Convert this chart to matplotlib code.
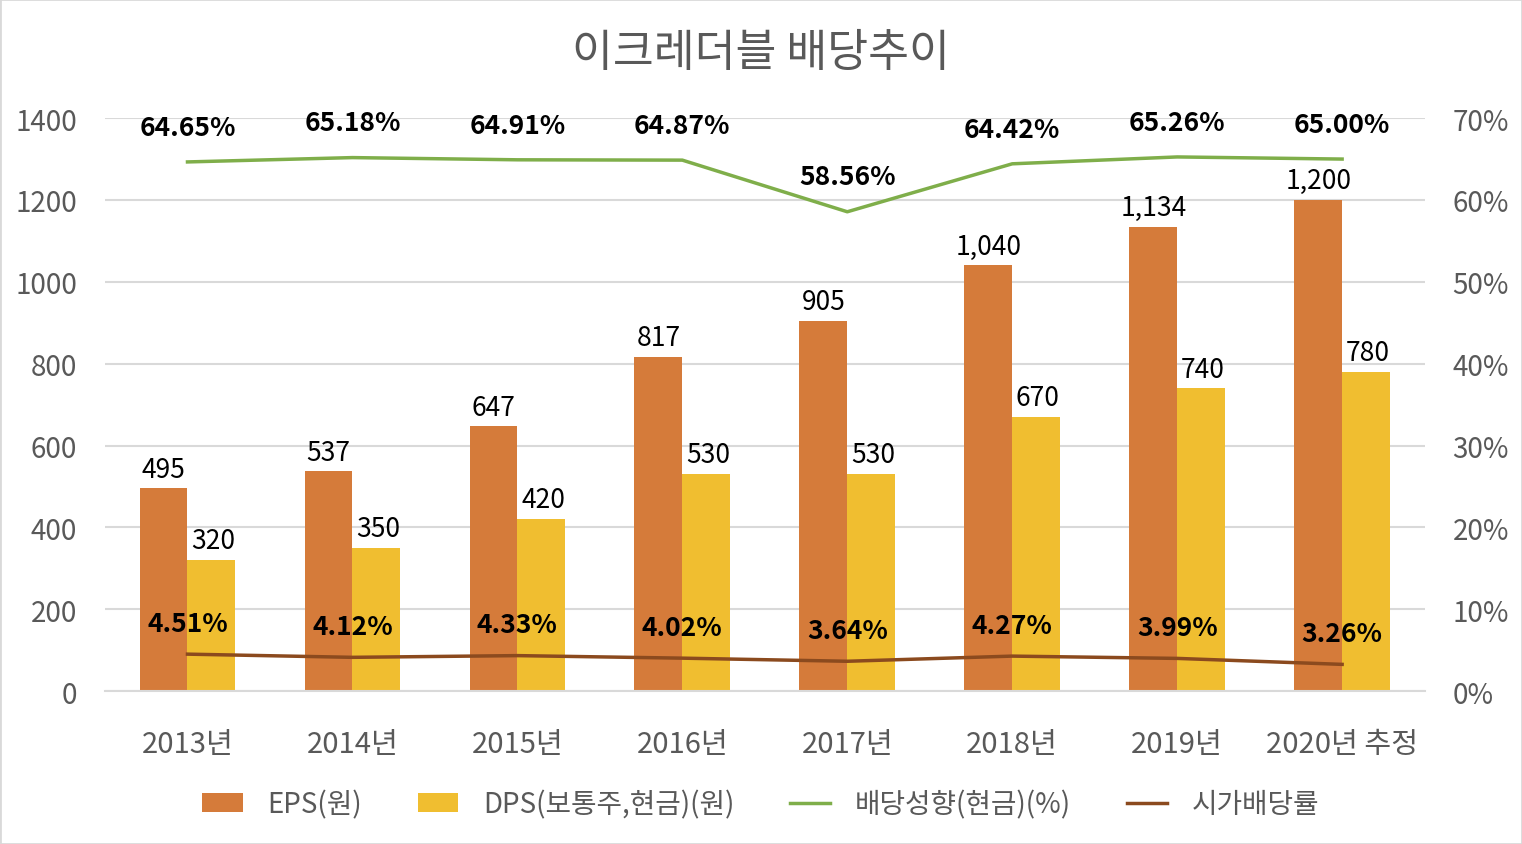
import numpy as np
import matplotlib.pyplot as plt
from matplotlib.patches import Rectangle

plt.rcParams['font.family'] = ['Noto Sans CJK KR', 'DejaVu Sans']

years = ['2013년', '2014년', '2015년', '2016년', '2017년', '2018년', '2019년', '2020년 추정']
eps = [495, 537, 647, 817, 905, 1040, 1134, 1200]
dps = [320, 350, 420, 530, 530, 670, 740, 780]
payout = [64.65, 65.18, 64.91, 64.87, 58.56, 64.42, 65.26, 65.00]
yield_ = [4.51, 4.12, 4.33, 4.02, 3.64, 4.27, 3.99, 3.26]

c_eps = '#D57B3A'
c_dps = '#F0BE30'
c_pay = '#7FAE4A'
c_yld = '#8B4A1E'
gray = '#595959'

fig = plt.figure(figsize=(15.22, 8.45), dpi=100)
fig.patches.append(Rectangle((0, 0), 1, 1, transform=fig.transFigure,
                             fill=False, edgecolor='#D9D9D9', linewidth=2))
ax = fig.add_axes([0.069, 0.181, 0.867, 0.678])
ax2 = ax.twinx()

x = np.arange(len(years))
w = 0.29
b1 = ax.bar(x - w / 2, eps, w, color=c_eps, label='EPS(원)', zorder=2)
b2 = ax.bar(x + w / 2, dps, w, color=c_dps, label='DPS(보통주,현금)(원)', zorder=2)
for i in range(len(x)):
    ax.text(x[i] - w / 2, eps[i] + 14, format(eps[i], ','), ha='center', va='bottom', fontsize=19)
    ax.text(x[i] + w / 2 + 0.01, dps[i] + 14, format(dps[i], ','), ha='center', va='bottom', fontsize=19)

l1, = ax2.plot(x, payout, color=c_pay, linewidth=2.5, label='배당성향(현금)(%)')
l2, = ax2.plot(x, yield_, color=c_yld, linewidth=2.5, label='시가배당률')
for i in range(len(x)):
    ax2.text(x[i], payout[i] + 2.6, '%.2f%%' % payout[i], ha='center', va='bottom',
             fontsize=19, fontweight='bold')
    ax2.text(x[i], yield_[i] + 2.1, '%.2f%%' % yield_[i], ha='center', va='bottom',
             fontsize=19, fontweight='bold')

ax.set_xlim(-0.5, len(x) - 0.5)
ax.set_ylim(0, 1400)
ax.set_yticks(np.arange(0, 1401, 200))
ax2.set_ylim(0, 70)
ax2.set_yticks(np.arange(0, 71, 10))
ax2.set_yticklabels(['%d%%' % v for v in range(0, 71, 10)])
ax.set_xticks(x)
ax.set_xticklabels(years)

ax.grid(axis='y', color='#D9D9D9', linewidth=1.5, zorder=0)
ax.set_axisbelow(True)
for a in (ax, ax2):
    for s in a.spines.values():
        s.set_visible(False)
    a.tick_params(length=0, colors=gray, labelsize=20)
ax.spines['bottom'].set_visible(True)
ax.spines['bottom'].set_color('#D9D9D9')
ax.spines['bottom'].set_linewidth(1.5)
ax.tick_params(axis='x', pad=27, labelsize=21)
ax.tick_params(axis='y', pad=20)
ax2.tick_params(axis='y', pad=20)

fig.text(0.5, 0.937, '이크레더블 배당추이', ha='center', va='center', fontsize=32, color=gray)

fig.legend([b1, b2, l1, l2], ['EPS(원)', 'DPS(보통주,현금)(원)', '배당성향(현금)(%)', '시가배당률'],
           loc='center', bbox_to_anchor=(0.5, 0.047), ncol=4, frameon=False,
           fontsize=20, labelcolor=gray, handlelength=1.45, handletextpad=0.9,
           columnspacing=2.0)

fig.savefig('out.png', dpi=100)
